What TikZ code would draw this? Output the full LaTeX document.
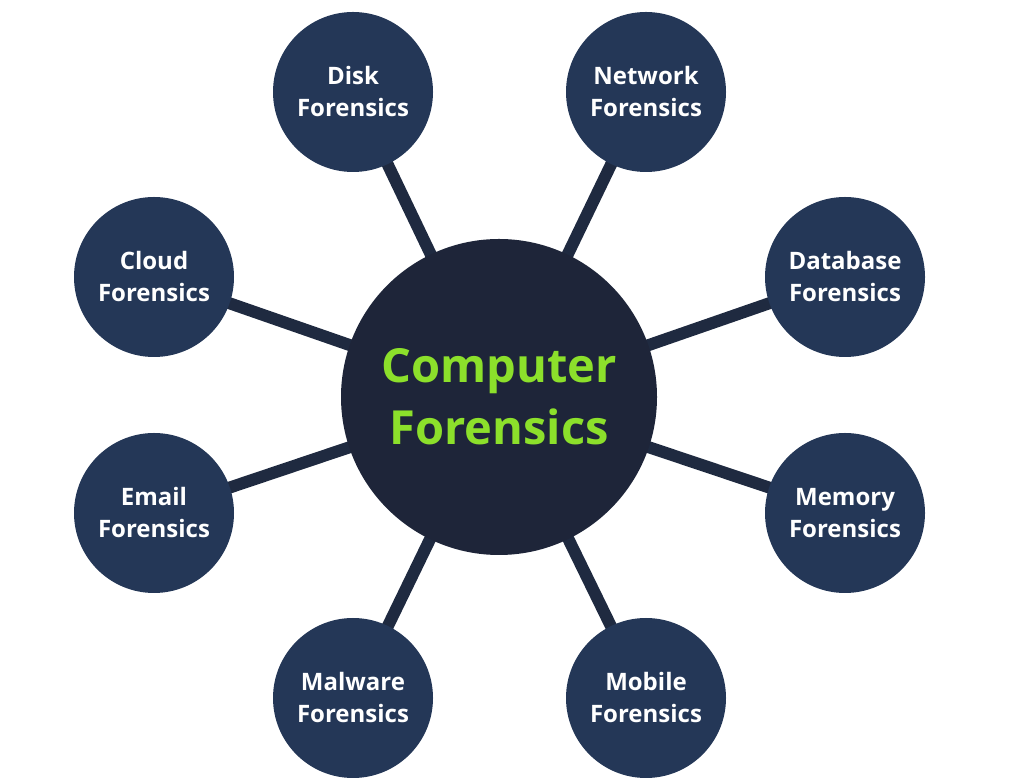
\documentclass[tikz,border=0pt]{standalone}
\usepackage{fontspec}
\setmainfont{Open Sans}
\usetikzlibrary{backgrounds}

\definecolor{hubnavy}{HTML}{1E2539}
\definecolor{branchnavy}{HTML}{243757}
\definecolor{spokenavy}{HTML}{1F2A40}
\definecolor{limegreen}{HTML}{8CE02B}

\begin{document}
\begin{tikzpicture}[x=1pt,y=1pt,
  hub/.style={circle, fill=hubnavy, minimum size=316pt, inner sep=0pt, align=center, text=limegreen, font=\fontsize{47}{62}\selectfont\bfseries},
  branch/.style={circle, fill=branchnavy, minimum size=160pt, inner sep=0pt, align=center, text=white, font=\fontsize{24}{32}\selectfont\bfseries},
  spoke/.style={draw=spokenavy, line width=12pt}]
%\draw[step=100,gray,very thin] (0,0) grid (1011,783);
\useasboundingbox (0,0) rectangle (1011,783);

\node[hub] (hub) at (499,386) {Computer\\Forensics};

\node[branch] (disk) at (353,691) {Disk\\Forensics};
\node[branch] (network) at (646,691) {Network\\Forensics};
\node[branch] (cloud) at (154,506) {Cloud\\Forensics};
\node[branch] (database) at (845,506) {Database\\Forensics};
\node[branch] (email) at (154,270) {Email\\Forensics};
\node[branch] (memory) at (845,270) {Memory\\Forensics};
\node[branch] (malware) at (353,85) {Malware\\Forensics};
\node[branch] (mobile) at (646,85) {Mobile\\Forensics};

\begin{scope}[on background layer]
\foreach \n in {disk,network,cloud,database,email,memory,malware,mobile}
  \draw[spoke] (hub.center) -- (\n.center);
\end{scope}

\end{tikzpicture}
\end{document}
